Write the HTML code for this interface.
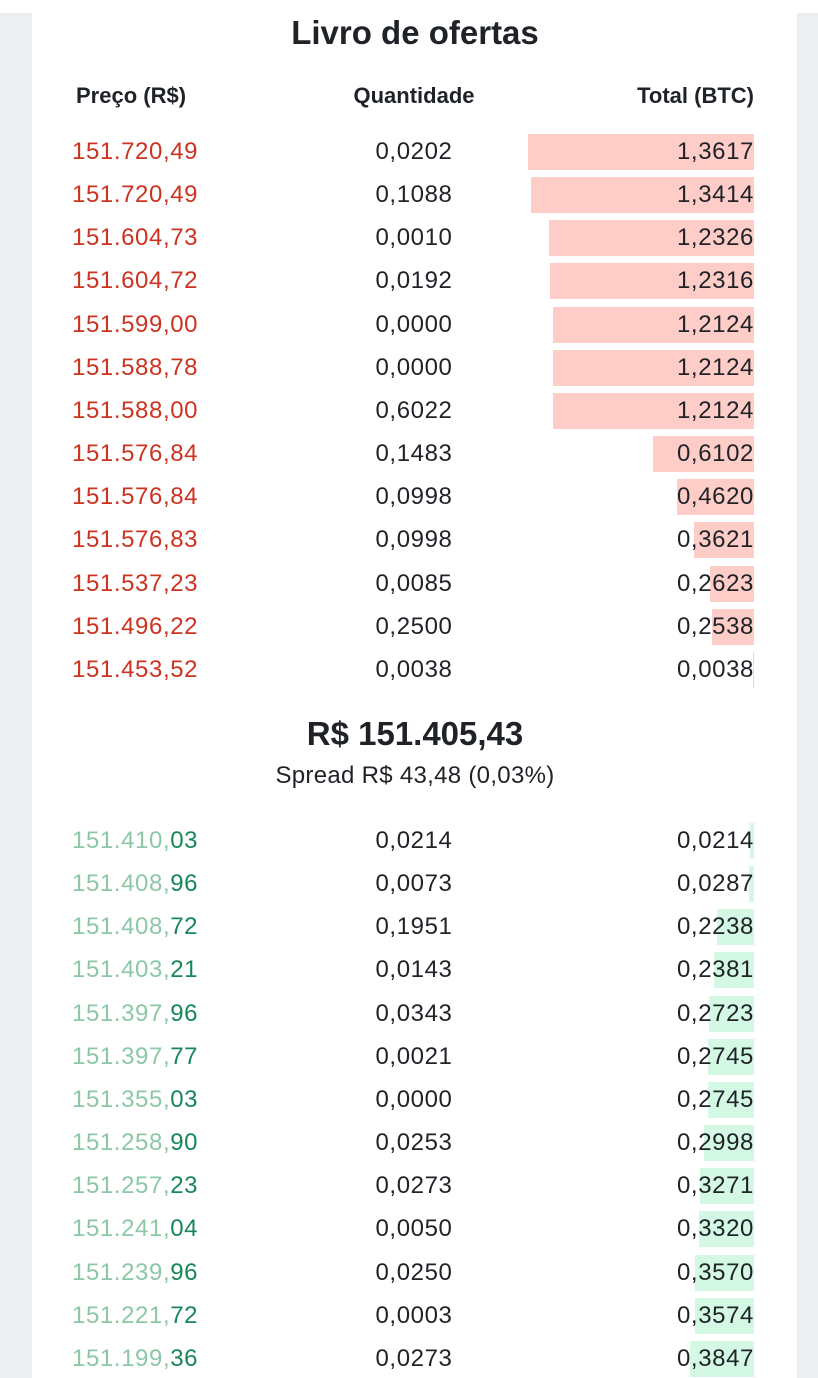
<!DOCTYPE html>
<html><head><meta charset="utf-8"><style>
body{margin:0;width:818px;height:1378px;background:#fff;position:relative;overflow:hidden;font-family:"Liberation Sans",sans-serif;color:#1f2328}
.side{position:absolute;top:13px;bottom:0;background:#eceff1}
.t{position:absolute;white-space:nowrap;font-size:24px;line-height:30px;letter-spacing:0.6px}
.bar{position:absolute;height:36px}
</style></head><body>
<div class="side" style="left:0;width:32px"></div>
<div class="side" style="left:797px;width:21px"></div>
<div class="t" style="left:0;width:830px;text-align:center;top:13px;font-size:33px;line-height:40px;font-weight:bold;letter-spacing:0">Livro de ofertas</div>
<div class="t" style="left:76px;top:81px;font-weight:bold;font-size:22px;letter-spacing:0">Preço (R$)</div>
<div class="t" style="left:314px;width:200px;text-align:center;top:81px;font-weight:bold;font-size:22px;letter-spacing:0">Quantidade</div>
<div class="t" style="right:64px;top:81px;font-weight:bold;font-size:22px;letter-spacing:0">Total (BTC)</div>
<div class="t" style="left:0;width:830px;text-align:center;top:714px;font-size:33px;line-height:40px;font-weight:bold;letter-spacing:0">R$ 151.405,43</div>
<div class="t" style="left:0;width:830px;text-align:center;top:761px;letter-spacing:0.3px">Spread R$ 43,48 (0,03%)</div>
<div id="book"></div>
<script>
const askPrices=["151.720,49","151.720,49","151.604,73","151.604,72","151.599,00","151.588,78","151.588,00","151.576,84","151.576,84","151.576,83","151.537,23","151.496,22","151.453,52"];
const askQty=["0,0202","0,1088","0,0010","0,0192","0,0000","0,0000","0,6022","0,1483","0,0998","0,0998","0,0085","0,2500","0,0038"];
const askTotals=[1.3617,1.3414,1.2326,1.2316,1.2124,1.2124,1.2124,0.6102,0.4620,0.3621,0.2623,0.2538,0.0038];
const bidPrices=["151.410,03","151.408,96","151.408,72","151.403,21","151.397,96","151.397,77","151.355,03","151.258,90","151.257,23","151.241,04","151.239,96","151.221,72","151.199,36"];
const bidQty=["0,0214","0,0073","0,1951","0,0143","0,0343","0,0021","0,0000","0,0253","0,0273","0,0050","0,0250","0,0003","0,0273"];
const bidTotals=[0.0214,0.0287,0.2238,0.2381,0.2723,0.2745,0.2745,0.2998,0.3271,0.3320,0.3570,0.3574,0.3847];
const maxT=Math.max(...askTotals,...bidTotals);
const barX=v=>v/maxT*226;
const book=document.getElementById('book');
function fmt(v){return v.toFixed(4).replace('.',',');}
function rows(prices,qty,totals,y0,side){
  prices.forEach((p,i)=>{
    const cy=y0+i*43.15;
    const b=document.createElement('div');b.className='bar';
    
    
    const w=barX(totals[i]);
    b.style.left=(754-w)+'px';b.style.width=w+'px';b.style.top=(cy-18)+'px';
    b.style.background=side==='ask'?'#ffcdc8':'#d3f8e3';
    book.appendChild(b);
    const pe=document.createElement('div');pe.className='t';
    
    
    pe.style.left='72px';pe.style.top=(cy-15)+'px';
    if(side==='ask'){pe.style.color='#cc3320';pe.textContent=p;}
    else{const k=p.indexOf(',')+1;pe.innerHTML='<span style="color:#8cc8a6">'+p.slice(0,k)+'</span><span style="color:#17875a">'+p.slice(k)+'</span>';}
    book.appendChild(pe);
    const q=document.createElement('div');q.className='t';
    
    
    q.style.left='314px';q.style.width='200px';q.style.textAlign='center';q.style.top=(cy-15)+'px';q.textContent=qty[i];
    book.appendChild(q);
    const t=document.createElement('div');t.className='t';
    
    
    t.style.right='64px';t.style.top=(cy-15)+'px';t.textContent=fmt(totals[i]);
    book.appendChild(t);
  });
}
rows(askPrices,askQty,askTotals,152,'ask');
rows(bidPrices,bidQty,bidTotals,841,'bid');
</script>
</body></html>
